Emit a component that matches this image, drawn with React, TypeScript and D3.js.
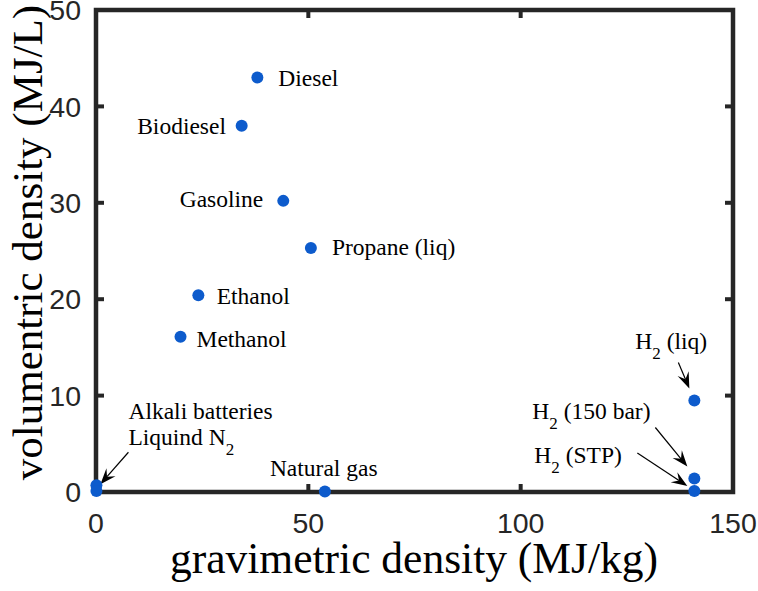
import React from "react";
import * as d3 from "d3";

// Energy carriers: gravimetric (MJ/kg) vs volumetric (MJ/L) energy density.
// "_2" in a name marks a subscript 2.
const fuels = [
  "Diesel",
  "Biodiesel",
  "Gasoline",
  "Propane (liq)",
  "Ethanol",
  "Methanol",
  "Natural gas",
  "H_2 (liq)",
  "H_2 (150 bar)",
  "H_2 (STP)",
  "Alkali batteries",
  "Liquind N_2",
];
const gravimetric = [38.0, 34.3, 44.1, 50.6, 24.1, 19.9, 53.9, 140.9, 140.9, 140.9, 0.1, 0.1];
const volumetric = [43.0, 38.0, 30.2, 25.3, 20.4, 16.1, 0.04, 9.5, 1.4, 0.1, 0.7, 0.1];

const xTicks = [0, 50, 100, 150];
const yTicks = [0, 10, 20, 30, 40, 50];

// Label placement in pixels relative to each point: text offset, anchor,
// and optional arrow (tail -> head) pointing back to the point.
type Layout = {
  dx: number;
  dy: number;
  anchor: "start" | "end";
  arrow?: [number, number, number, number];
};
const labelLayout: Layout[] = [
  { dx: 21, dy: 8.7, anchor: "start" },
  { dx: -15.7, dy: 8, anchor: "end" },
  { dx: -20, dy: 6.6, anchor: "end" },
  { dx: 21, dy: 6.7, anchor: "start" },
  { dx: 18.4, dy: 9, anchor: "start" },
  { dx: 16, dy: 10.3, anchor: "start" },
  { dx: -55, dy: -16, anchor: "start" },
  { dx: -59, dy: -51, anchor: "start", arrow: [-16, -38, -5, -12] },
  { dx: -162, dy: -60, anchor: "start", arrow: [-39, -51, -7, -12] },
  { dx: -160, dy: -28, anchor: "start", arrow: [-57, -38, -7, -5] },
  { dx: 32, dy: -66, anchor: "start", arrow: [32, -33, 4, -1] },
  { dx: 32, dy: -46, anchor: "start" },
];

const W = 758;
const H = 591;
const left = 96;
const right = 733;
const top = 10;
const bottom = 492;

const axisColor = "#262626";
const dotColor = "#0d5bcc";
const serif = "'Liberation Serif', 'Times New Roman', serif";
const sans = "'Liberation Sans', Arial, sans-serif";

function LabelText({ text, x, y, anchor }: { text: string; x: number; y: number; anchor: string }) {
  const parts = text.split("_2");
  const nodes: React.ReactNode[] = [];
  parts.forEach((p, i) => {
    const shift = i > 0 ? -10 : 0;
    if (i > 0) {
      nodes.push(
        <tspan key={"s" + i} fontSize={17} dy={10}>
          2
        </tspan>
      );
    }
    if (p.length > 0) {
      nodes.push(
        <tspan key={"t" + i} dy={shift}>
          {p.replace(/^ /, "\u00a0")}
        </tspan>
      );
    }
  });
  return (
    <text x={x} y={y} textAnchor={anchor} fontFamily={serif} fontSize={23.5} fill="#000">
      {nodes}
    </text>
  );
}

function arrowHead(x1: number, y1: number, x2: number, y2: number) {
  const ang = Math.atan2(y2 - y1, x2 - x1);
  const L = 16;
  const Wd = 6;
  const notch = 10;
  const ux = Math.cos(ang);
  const uy = Math.sin(ang);
  const px = -uy;
  const py = ux;
  const p = d3.path();
  p.moveTo(x2, y2);
  p.lineTo(x2 - ux * L + px * Wd, y2 - uy * L + py * Wd);
  p.lineTo(x2 - ux * notch, y2 - uy * notch);
  p.lineTo(x2 - ux * L - px * Wd, y2 - uy * L - py * Wd);
  p.closePath();
  return { d: p.toString(), bx: x2 - ux * notch, by: y2 - uy * notch };
}

export default function App() {
  const x = d3.scaleLinear().domain([0, 150]).range([left, right]);
  const y = d3.scaleLinear().domain([0, 50]).range([bottom, top]);
  const tickLen = 8;

  return (
    <svg width={W} height={H} style={{ position: "absolute", left: 0, top: 0, background: "#fff" }}>
      {/* axes box */}
      <rect
        x={left}
        y={top}
        width={right - left}
        height={bottom - top}
        fill="none"
        stroke={axisColor}
        strokeWidth={4.5}
      />
      {/* x ticks */}
      {xTicks.map((t) => (
        <g key={"x" + t}>
          <line x1={x(t)} x2={x(t)} y1={bottom} y2={bottom - tickLen} stroke={axisColor} strokeWidth={4} />
          <line x1={x(t)} x2={x(t)} y1={top} y2={top + tickLen} stroke={axisColor} strokeWidth={4} />
          <text x={x(t)} y={533} textAnchor="middle" fontFamily={sans} fontSize={28.5} fill={axisColor}>
            {t}
          </text>
        </g>
      ))}
      {/* y ticks */}
      {yTicks.map((t) => (
        <g key={"y" + t}>
          <line x1={left} x2={left + tickLen} y1={y(t)} y2={y(t)} stroke={axisColor} strokeWidth={4} />
          <line x1={right} x2={right - tickLen} y1={y(t)} y2={y(t)} stroke={axisColor} strokeWidth={4} />
          <text
            x={81}
            y={y(t)}
            dy="0.36em"
            textAnchor="end"
            fontFamily={sans}
            fontSize={28.5}
            fill={axisColor}
          >
            {t}
          </text>
        </g>
      ))}
      {/* axis titles */}
      <text x={414} y={573} textAnchor="middle" fontFamily={serif} fontSize={43.5} fill="#000">
        gravimetric density (MJ/kg)
      </text>
      <text
        transform={`translate(42,242.5) rotate(-90)`}
        textAnchor="middle"
        fontFamily={serif}
        fontSize={43}
        fill="#000"
      >
        volumentric density (MJ/L)
      </text>

      {/* arrows */}
      {fuels.map((f, i) => {
        const a = labelLayout[i].arrow;
        if (!a) return null;
        const px = x(gravimetric[i]);
        const py = y(volumetric[i]);
        const x1 = px + a[0];
        const y1 = py + a[1];
        const x2 = px + a[2];
        const y2 = py + a[3];
        const h = arrowHead(x1, y1, x2, y2);
        return (
          <g key={"a" + f}>
            <line x1={x1} y1={y1} x2={h.bx} y2={h.by} stroke="#000" strokeWidth={1.2} />
            <path d={h.d} fill="#000" />
          </g>
        );
      })}

      {/* points */}
      {fuels.map((f, i) => (
        <circle key={"p" + f} cx={x(gravimetric[i])} cy={y(volumetric[i])} r={6} fill={dotColor} />
      ))}

      {/* labels */}
      {fuels.map((f, i) => {
        const l = labelLayout[i];
        return (
          <LabelText
            key={"l" + f}
            text={f}
            x={x(gravimetric[i]) + l.dx}
            y={y(volumetric[i]) + l.dy}
            anchor={l.anchor}
          />
        );
      })}
    </svg>
  );
}
